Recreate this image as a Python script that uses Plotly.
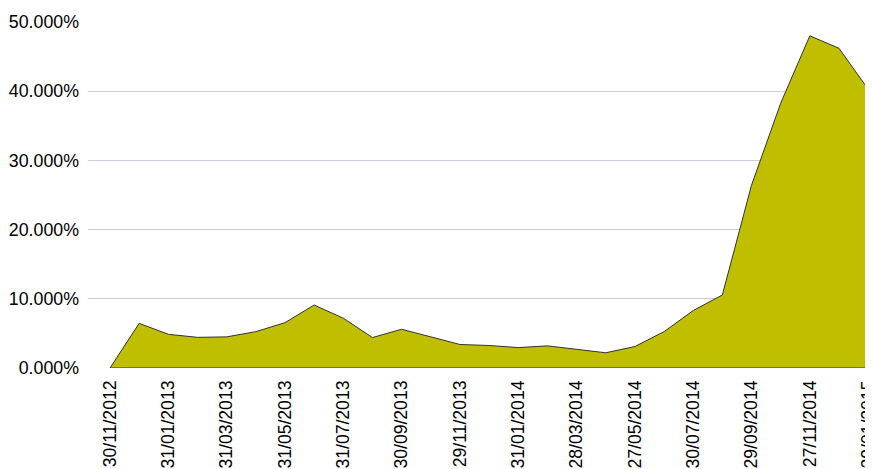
import plotly.graph_objects as go

dates = ["30/11/2012", "31/12/2012", "31/01/2013", "28/02/2013", "31/03/2013", "30/04/2013",
         "31/05/2013", "28/06/2013", "31/07/2013", "30/08/2013", "30/09/2013", "31/10/2013",
         "29/11/2013", "31/12/2013", "31/01/2014", "28/02/2014", "28/03/2014", "28/04/2014",
         "27/05/2014", "27/06/2014", "30/07/2014", "29/08/2014", "29/09/2014", "28/10/2014",
         "27/11/2014", "29/12/2014", "29/01/2015"]
values = [0.0, 6.45, 4.87, 4.43, 4.5, 5.25, 6.55, 9.1, 7.2, 4.4, 5.6, 4.5,
          3.4, 3.25, 2.95, 3.2, 2.75, 2.2, 3.1, 5.25, 8.3, 10.55, 26.4, 38.25,
          48.0, 46.2, 40.3]
y_ticks = [0, 10, 20, 30, 40, 50]
y_tick_labels = ["0.000%", "10.000%", "20.000%", "30.000%", "40.000%", "50.000%"]

idx = list(range(len(dates)))
# closed polygon: series, then down to the baseline and back to the start
poly_x = idx + [idx[-1], idx[0]]
poly_y = list(values) + [0, 0]

fig = go.Figure()
fig.add_trace(go.Scatter(
    x=poly_x, y=poly_y, mode="lines", fill="toself",
    fillcolor="#BFBF00", line=dict(color="#333333", width=1),
    hoverinfo="skip", showlegend=False, cliponaxis=False,
))

fig.update_layout(
    width=865, height=461,
    margin=dict(l=80, r=4, t=14, b=101),
    paper_bgcolor="white", plot_bgcolor="white",
    font=dict(family="Liberation Sans, Arial, sans-serif", size=17.8, color="#000000"),
    showlegend=False,
)
fig.update_xaxes(
    range=[-0.755, 26.03],
    tickmode="array", tickvals=idx[::2], ticktext=dates[::2],
    tickangle=-90, tickfont=dict(size=17.6),
    showgrid=False, zeroline=False, showline=False,
    ticks="", ticklabelstandoff=8, ticklabeloverflow="allow", automargin=False,
)
fig.update_yaxes(
    range=[0, 50], tickmode="array", tickvals=y_ticks, ticktext=y_tick_labels,
    showgrid=True, gridcolor="#CBCBE0", gridwidth=1, zeroline=False, showline=False,
    ticks="", ticklabelstandoff=8, automargin=False,
)

fig.write_html("out.html")
